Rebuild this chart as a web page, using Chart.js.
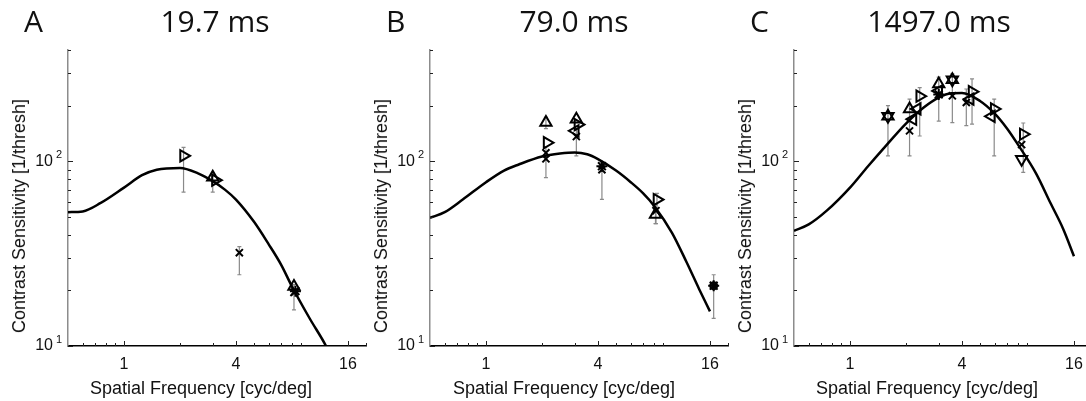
<!DOCTYPE html>
<html>
<head>
<meta charset="utf-8">
<script src="https://cdn.jsdelivr.net/npm/chart.js@4.4.1/dist/chart.umd.min.js"></script>
<style>
  html, body { margin: 0; padding: 0; background: #fff; }
  body { width: 1086px; height: 401px; position: relative; overflow: hidden; }
  canvas { position: absolute; top: 0; }
  .txt { position: absolute; z-index: 2; white-space: nowrap; color: #111; }
  .big { top: 0; font-family: "Open Sans"; font-size: 30px; line-height: 42px; }
  .ctr { transform: translateX(-50%); }
  .axt { font-family: "Liberation Sans"; font-size: 18px; line-height: 22px; }
  .yt { transform: translate(-50%, -50%) rotate(-90deg); }
</style>
</head>
<body>
<canvas id="cA" width="380" height="401" style="left:0px"></canvas>
<canvas id="cB" width="380" height="401" style="left:362px"></canvas>
<canvas id="cC" width="380" height="401" style="left:726px"></canvas>

<div class="txt big" style="left:24px">A</div>
<div class="txt big ctr" style="left:215px">19.7 ms</div>
<div class="txt big" style="left:386px">B</div>
<div class="txt big ctr" style="left:574px">79.0 ms</div>
<div class="txt big" style="left:750px">C</div>
<div class="txt big ctr" style="left:939px">1497.0 ms</div>

<div class="txt axt ctr" style="left:201px;top:377px">Spatial Frequency [cyc/deg]</div>
<div class="txt axt ctr" style="left:564px;top:377px">Spatial Frequency [cyc/deg]</div>
<div class="txt axt ctr" style="left:927px;top:377px">Spatial Frequency [cyc/deg]</div>
<div class="txt axt yt" style="left:19px;top:216px">Contrast Sensitivity [1/thresh]</div>
<div class="txt axt yt" style="left:381px;top:216px">Contrast Sensitivity [1/thresh]</div>
<div class="txt axt yt" style="left:745px;top:216px">Contrast Sensitivity [1/thresh]</div>

<script>
// axes
const xTicks = [1, 4, 16];
const xMinor = [0.6, 0.7, 0.8, 0.9, 2, 3, 5, 6, 7, 8, 9, 20];
const yTicks = [10, 100];
const yExp = ['1', '2'];
const yMinor = [20, 30, 40, 50, 60, 70, 80, 90, 200, 300, 400];

// fitted curves at these frequencies
const curveX = [0.5, 0.6, 0.75, 1, 1.25, 1.5, 2, 2.5, 3, 3.5, 4, 5, 6, 7, 8, 10, 12, 14, 16];
const curveA = [53, 53.5, 59.5, 72, 84, 90, 92, 86, 78, 70, 62, 47, 35.5, 27.5, 21, 14, 10.3, 7.5, 5.5];
const curveB = [49.4, 53, 62, 77, 89, 96, 106, 110, 111.5, 109, 102.6, 89, 77, 67, 57.5, 41, 28.3, 20.3, 15.4];
const curveC = [42, 45.5, 54, 72, 94, 116, 160, 196, 221, 233, 234, 212, 181, 150, 123, 86, 59, 43, 30.6];

// observers: [freq, sensitivity, errLow, errHigh]
const aRight = [[2.09, 107, 68, 119], [3.1, 79, null, null]];
const aUp    = [[3.0, 82, 68, 86], [8.2, 21, null, null]];
const aCross = [[4.17, 32, 24.3, 34.5], [8.2, 19.5, 15.7, 21.5]];
const aStar  = [[8.35, 19.8, null, null]];

const bUp    = [[2.1, 162, 150, 173], [3.06, 169, null, null], [8.15, 51.5, 46, 55]];
const bRight = [[2.13, 126, null, null], [3.12, 158, null, null], [8.3, 62, 56, 67]];
const bLeft  = [[3.02, 146, null, null]];
const bCross = [[2.1, 111, null, null], [2.1, 103, 81.5, 120], [3.06, 136, 107, 150], [4.2, 90, 62.2, 98.5], [8.2, 54, 46, 58]];
const bStar  = [[4.2, 94, null, null], [16.75, 21.2, 14.1, 24.3]];
const bDot   = [[16.75, 21.2, null, null]];

const cHex   = [[1.6, 175, 107, 200], [3.55, 276, 162, 297]];
const cUp    = [[2.09, 192, 107, 217], [3.0, 262, 165, 285]];
const cLeft  = [[2.18, 169, null, null], [2.3, 192, null, null], [3.0, 240, null, null], [4.43, 217, null, null], [5.76, 175, null, null]];
const cRight = [[2.37, 225, 137, 250], [4.53, 238, 159, 279], [5.96, 192, 107, 217], [8.54, 140, 87, 161]];
const cCross = [[2.09, 146, null, null], [3.55, 226, null, null], [4.22, 208, 156, 246], [8.37, 123, null, null]];
const cDown  = [[8.37, 102.6, null, null]];
const cStar  = [[3.0, 230, null, null]];

const extras = {
  id: 'extras',
  beforeDatasetsDraw(chart) {
    const { ctx, scales: { x, y } } = chart;
    ctx.save();
    ctx.strokeStyle = '#8a8a8a';
    ctx.lineWidth = 1.2;
    chart.data.datasets.forEach(ds => {
      (ds.err || []).forEach((e, i) => {
        if (!e) return;
        const px = x.getPixelForValue(ds.data[i].x);
        const t = y.getPixelForValue(e[1]), b = y.getPixelForValue(e[0]);
        ctx.beginPath();
        ctx.moveTo(px, t); ctx.lineTo(px, b);
        ctx.moveTo(px - 2, t); ctx.lineTo(px + 2, t);
        ctx.moveTo(px - 2, b); ctx.lineTo(px + 2, b);
        ctx.stroke();
      });
    });
    ctx.restore();
  },
  afterDraw(chart) {
    // inward tick marks
    const { ctx, chartArea: ca, scales: { x, y } } = chart;
    ctx.save();
    ctx.strokeStyle = '#222';
    ctx.lineWidth = 1;
    ctx.beginPath();
    xMinor.concat(xTicks).forEach(v => {
      const px = Math.round(x.getPixelForValue(v)) + 0.5;
      const len = xTicks.includes(v) ? 5 : 3;
      ctx.moveTo(px, ca.bottom); ctx.lineTo(px, ca.bottom - len);
    });
    yMinor.concat(yTicks).forEach(v => {
      const py = Math.round(y.getPixelForValue(v)) + 0.5;
      const len = yTicks.includes(v) ? 5 : 3;
      ctx.moveTo(ca.left, py); ctx.lineTo(ca.left + len, py);
    });
    ctx.stroke();
    // exponents of the 10^n labels
    ctx.fillStyle = '#111';
    ctx.font = '11px "Liberation Sans"';
    ctx.textAlign = 'left';
    ctx.textBaseline = 'middle';
    yTicks.forEach((v, i) => {
      ctx.fillText(yExp[i], ca.left - 12, y.getPixelForValue(v) - 6);
    });
    ctx.restore();
  }
};

function markerSet(pts, style, rot, r) {
  return {
    data: pts.map(p => ({ x: p[0], y: p[1] })),
    err: pts.map(p => (p[2] != null ? [p[2], p[3]] : null)),
    pointStyle: style,
    pointRotation: rot || 0,
    pointRadius: r || 6.5,
    borderColor: '#000',
    backgroundColor: 'rgba(0,0,0,0)',
    borderWidth: 2,
    showLine: false
  };
}

function buildPanel(id, curve, sets) {
  const datasets = sets.slice();
  datasets.push({
    data: curveX.map((x, i) => ({ x, y: curve[i] })),
    showLine: true,
    borderColor: '#000',
    borderWidth: 2.5,
    pointRadius: 0,
    cubicInterpolationMode: 'monotone',
    fill: false
  });
  const tickFont = { family: 'Liberation Sans', size: 16 };
  new Chart(document.getElementById(id), {
    type: 'scatter',
    data: { datasets },
    options: {
      responsive: false,
      animation: false,
      layout: { padding: { top: 50, right: 14, left: 0, bottom: 0 } },
      plugins: { legend: { display: false }, tooltip: { enabled: false } },
      scales: {
        x: {
          type: 'logarithmic', min: 0.5, max: 20,
          afterBuildTicks: s => { s.ticks = xTicks.map(v => ({ value: v })); },
          afterFit: s => { s.height = 55; },
          ticks: { callback: v => (xTicks.includes(v) ? String(v) : ''), font: tickFont, color: '#111', padding: 9, maxRotation: 0, autoSkip: false },
          grid: { display: false, drawTicks: false },
          border: { color: '#000', width: 1.5 }
        },
        y: {
          type: 'logarithmic', min: 10, max: 400,
          afterBuildTicks: s => { s.ticks = yTicks.map(v => ({ value: v })); },
          afterFit: s => { s.width = 68; },
          ticks: { callback: v => (yTicks.includes(v) ? '10' : ''), font: tickFont, color: '#111', padding: 15, autoSkip: false },
          grid: { display: false, drawTicks: false },
          border: { color: '#8c8c8c', width: 1.5 }
        }
      }
    },
    plugins: [extras]
  });
}

buildPanel('cA', curveA, [
  markerSet(aRight, 'triangle', 90),
  markerSet(aUp, 'triangle', 0),
  markerSet(aCross, 'crossRot', 0, 5),
  markerSet(aStar, 'star', 0, 5.5)
]);

buildPanel('cB', curveB, [
  markerSet(bUp, 'triangle', 0),
  markerSet(bRight, 'triangle', 90),
  markerSet(bLeft, 'triangle', -90),
  markerSet(bCross, 'crossRot', 0, 5),
  markerSet(bStar, 'star', 0, 5.5),
  markerSet(bDot, 'circle', 0, 3.5)
]);

buildPanel('cC', curveC, [
  markerSet(cHex, 'triangle', 0),
  markerSet(cHex.map(p => [p[0], p[1], null, null]), 'triangle', 180),
  markerSet(cUp, 'triangle', 0),
  markerSet(cLeft, 'triangle', -90),
  markerSet(cRight, 'triangle', 90),
  markerSet(cCross, 'crossRot', 0, 5),
  markerSet(cDown, 'triangle', 180),
  markerSet(cStar, 'star', 0, 5.5)
]);
</script>
</body>
</html>
